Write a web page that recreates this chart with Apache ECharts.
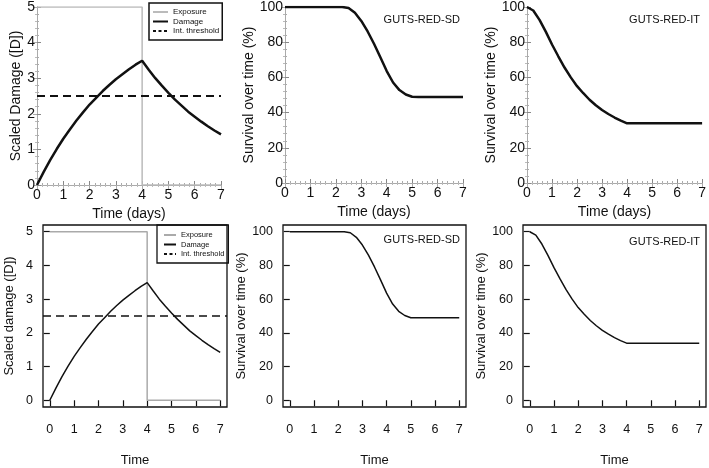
<!DOCTYPE html>
<html>
<head>
<meta charset="utf-8">
<script src="https://cdn.jsdelivr.net/npm/echarts@6/dist/echarts.min.js"></script>
<style>
  html, body {margin:0;padding:0;background:#fff;}
  #chart {width:709px;height:468px;}
</style>
</head>
<body>
<div id="chart"></div>
<script>
// quarter-day steps
var days = [0, 0.25, 0.5, 0.75, 1, 1.25, 1.5, 1.75, 2, 2.25, 2.5, 2.75, 3, 3.25, 3.5, 3.75,
            4, 4.25, 4.5, 4.75, 5, 5.25, 5.5, 5.75, 6, 6.25, 6.5, 6.75, 7];
var damage = [0, 0.36, 0.70, 1.01, 1.30, 1.56, 1.81, 2.04, 2.26, 2.45, 2.64, 2.81, 2.97, 3.11, 3.25, 3.38,
              3.49, 3.24, 3.00, 2.79, 2.59, 2.40, 2.23, 2.06, 1.92, 1.78, 1.65, 1.53, 1.42];
var survivalSD = [100, 100, 100, 100, 100, 100, 100, 100, 100, 100, 99.4, 96.7, 92.1, 86.1, 79.1, 71.4,
                  63.6, 57.1, 52.8, 50.3, 49.0, 48.9, 48.9, 48.9, 48.9, 48.9, 48.9, 48.9, 48.9];
var survivalIT = [100, 98.0, 92.7, 86.0, 78.7, 72.0, 65.6, 60.0, 55.0, 51.0, 47.3, 44.2, 41.5, 39.2, 37.2, 35.4,
                  33.9, 33.9, 33.9, 33.9, 33.9, 33.9, 33.9, 33.9, 33.9, 33.9, 33.9, 33.9, 33.9];
var exposureDays = [0, 4, 4, 7];
var exposureLevel = [5, 5, 0, 0];
var threshold = 2.5;

var dayTicks = [0, 1, 2, 3, 4, 5, 6, 7];
var damageTicks = [0, 1, 2, 3, 4, 5];
var survivalTicks = [0, 20, 40, 60, 80, 100];

function pairs(xs, ys) {
    return xs.map(function (x, i) { return [x, ys[i]]; });
}

var chart = echarts.init(document.getElementById('chart'), null, {renderer: 'canvas'});

var grids = [
    {left: 37, top: 5, width: 184, height: 180},
    {left: 285, top: 5, width: 178, height: 178},
    {left: 527, top: 5, width: 178, height: 178},
    {left: 43, top: 225, width: 184, height: 185, show: true, borderColor: '#111', borderWidth: 1.3},
    {left: 283, top: 225, width: 183, height: 184, show: true, borderColor: '#111', borderWidth: 1.3},
    {left: 523, top: 225, width: 183, height: 184, show: true, borderColor: '#111', borderWidth: 1.3}
];

var xAxes = [], yAxes = [];

// top row: framed, ticks inside, mirrored on top / right
function topPanel(g, yMax, yStep, yName, yGap) {
    xAxes.push({
        gridIndex: g, type: 'value', min: 0, max: 7, interval: 1,
        name: 'Time (days)', nameLocation: 'middle', nameGap: 22,
        nameTextStyle: {fontSize: 14, color: '#111'},
        axisLine: {show: true, lineStyle: {color: '#888', width: 1}},
        axisTick: {show: true, inside: true, length: 4, lineStyle: {color: '#888'}},
        minorTick: {show: true, splitNumber: 5, length: 2, lineStyle: {color: '#aaa'}},
        axisLabel: {fontSize: 14, color: '#111', margin: 3},
        splitLine: {show: false}
    });
    var xi = xAxes.length - 1;
    xAxes.push({
        gridIndex: g, type: 'value', position: 'top', min: 0, max: 7, interval: 1,
        axisLine: {show: true, lineStyle: {color: '#aaa', width: 1}},
        axisTick: {show: true, inside: true, length: 4, lineStyle: {color: '#aaa'}},
        minorTick: {show: true, splitNumber: 5, length: 2, lineStyle: {color: '#bbb'}},
        axisLabel: {show: false}, splitLine: {show: false}
    });
    yAxes.push({
        gridIndex: g, type: 'value', min: 0, max: yMax, interval: yStep,
        name: yName, nameLocation: 'middle', nameGap: yGap,
        nameTextStyle: {fontSize: 14, color: '#111'},
        axisLine: {show: true, lineStyle: {color: '#888', width: 1}},
        axisTick: {show: true, inside: true, length: 4, lineStyle: {color: '#888'}},
        minorTick: {show: true, splitNumber: 5, length: 2, lineStyle: {color: '#aaa'}},
        axisLabel: {fontSize: 14, color: '#111', margin: 2},
        splitLine: {show: false}
    });
    var yi = yAxes.length - 1;
    yAxes.push({
        gridIndex: g, type: 'value', position: 'right', min: 0, max: yMax, interval: yStep,
        axisLine: {show: true, lineStyle: {color: '#aaa', width: 1}},
        axisTick: {show: true, inside: true, length: 4, lineStyle: {color: '#aaa'}},
        minorTick: {show: true, splitNumber: 5, length: 2, lineStyle: {color: '#bbb'}},
        axisLabel: {show: false}, splitLine: {show: false}
    });
    return [xi, yi];
}

// bottom row: R style box, ticks outside
function bottomPanel(g, yMin, yMax, yTicks, yName, yGap) {
    xAxes.push({
        gridIndex: g, type: 'value', min: -0.28, max: 7.28,
        name: 'Time', nameLocation: 'middle', nameGap: 47,
        nameTextStyle: {fontSize: 13, color: '#111'},
        axisLine: {show: false},
        axisTick: {show: true, inside: false, length: 6, customValues: dayTicks, lineStyle: {color: '#111', width: 1.2}},
        axisLabel: {fontSize: 12.5, color: '#111', margin: 16, customValues: dayTicks},
        splitLine: {show: false}
    });
    yAxes.push({
        gridIndex: g, type: 'value', min: yMin, max: yMax,
        name: yName, nameLocation: 'middle', nameGap: yGap,
        nameTextStyle: {fontSize: 13, color: '#111'},
        axisLine: {show: false},
        axisTick: {show: true, inside: false, length: 6, customValues: yTicks, lineStyle: {color: '#111', width: 1.2}},
        axisLabel: {fontSize: 12.5, color: '#111', margin: 10, customValues: yTicks},
        splitLine: {show: false}
    });
    return [xAxes.length - 1, yAxes.length - 1];
}

var a0 = topPanel(0, 5, 1, 'Scaled Damage ([D])', 13);
var a1 = topPanel(1, 100, 20, 'Survival over time (%)', 27);
var a2 = topPanel(2, 100, 20, 'Survival over time (%)', 27);
var a3 = bottomPanel(3, -0.2, 5.2, damageTicks, 'Scaled damage ([D])', 27);
var a4 = bottomPanel(4, -4, 104, survivalTicks, 'Survival over time (%)', 33);
var a5 = bottomPanel(5, -4, 104, survivalTicks, 'Survival over time (%)', 33);

function line(name, ax, data, color, width, dash) {
    return {
        name: name, type: 'line', xAxisIndex: ax[0], yAxisIndex: ax[1],
        data: data, symbol: 'none', color: color,
        lineStyle: {color: color, width: width, type: dash || 'solid'},
        silent: true
    };
}

function thresholdSeries(name, ax, width) {
    var s = line(name, ax, [], '#111', width, [8, 5]);
    s.markLine = {
        silent: true, symbol: 'none', label: {show: false},
        lineStyle: {color: '#111', width: width, type: [8, 5]},
        data: [{yAxis: threshold}]
    };
    return s;
}

var series = [
    line('Exposure', a0, pairs(exposureDays, exposureLevel), '#bbb', 1.5),
    line('Damage', a0, pairs(days, damage), '#111', 2.5),
    thresholdSeries('Int. threshold', a0, 2),
    line('SD-top', a1, pairs(days, survivalSD), '#111', 2.5),
    line('IT-top', a2, pairs(days, survivalIT), '#111', 2.5),
    line('Exposure#2', a3, pairs(exposureDays, exposureLevel), '#aaa', 1.5),
    line('Damage#2', a3, pairs(days, damage), '#111', 1.5),
    thresholdSeries('Int. threshold#2', a3, 1.5),
    line('SD-bottom', a4, pairs(days, survivalSD), '#111', 1.5),
    line('IT-bottom', a5, pairs(days, survivalIT), '#111', 1.5)
];

function stripName(n) { return n.replace('#2', ''); }

var option = {
    animation: false,
    backgroundColor: '#fff',
    textStyle: {fontFamily: 'Liberation Sans, Arial, Helvetica, sans-serif'},
    grid: grids,
    xAxis: xAxes,
    yAxis: yAxes,
    title: [
        {text: 'GUTS-RED-SD', right: 249, top: 14, padding: 0, textStyle: {fontSize: 11, fontWeight: 'normal', color: '#111'}},
        {text: 'GUTS-RED-IT', right: 9, top: 14, padding: 0, textStyle: {fontSize: 11, fontWeight: 'normal', color: '#111'}},
        {text: 'GUTS-RED-SD', right: 249, top: 234, padding: 0, textStyle: {fontSize: 11, fontWeight: 'normal', color: '#111'}},
        {text: 'GUTS-RED-IT', right: 9, top: 236, padding: 0, textStyle: {fontSize: 11, fontWeight: 'normal', color: '#111'}}
    ],
    legend: [
        {
            left: 149, top: 3, orient: 'vertical', selectedMode: false,
            itemWidth: 15, itemHeight: 8, itemGap: 1.5, padding: [5, 3, 5, 3],
            borderColor: '#111', borderWidth: 1.5,
            itemStyle: {opacity: 0},
            textStyle: {fontSize: 8, color: '#111'},
            data: [{name: 'Exposure'}, {name: 'Damage'},
                   {name: 'Int. threshold', lineStyle: {type: [3, 2.5]}}]
        },
        {
            left: 157, top: 225, orient: 'vertical', selectedMode: false,
            itemWidth: 12, itemHeight: 7, itemGap: 1.5, padding: [6, 4, 5, 6],
            borderColor: '#111', borderWidth: 1.3,
            itemStyle: {opacity: 0},
            textStyle: {fontSize: 7.5, color: '#111'},
            formatter: stripName,
            data: [{name: 'Exposure#2'}, {name: 'Damage#2'},
                   {name: 'Int. threshold#2', lineStyle: {type: [3, 2.5]}}]
        }
    ],
    series: series
};

chart.setOption(option);
</script>
</body>
</html>
